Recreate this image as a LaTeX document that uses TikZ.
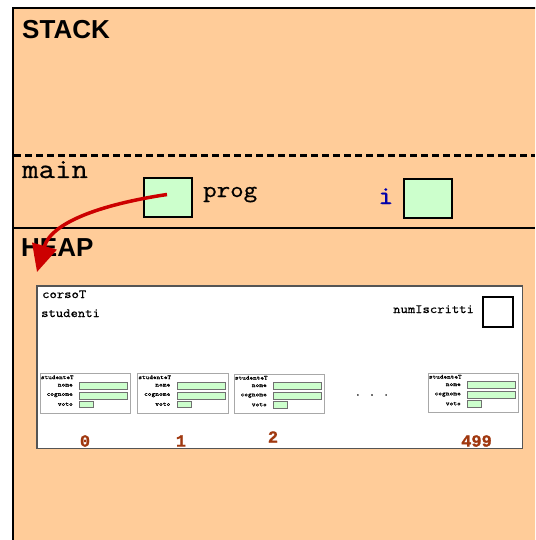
\documentclass[tikz,border=0pt]{standalone}
\usepackage{fontspec}
\setmainfont{Liberation Sans}
\setsansfont{Liberation Sans}
\setmonofont{Latin Modern Mono}[FakeStretch=1.14, FakeBold=0.8]
\newfontfamily\idxfont{Liberation Mono}[FakeBold=1.2]
\usetikzlibrary{arrows.meta}
\definecolor{peach}{HTML}{FFCC99}
\definecolor{cellgreen}{HTML}{CCFFCC}
\definecolor{ptrred}{HTML}{CC0000}
\definecolor{varblue}{HTML}{0000AA}
\definecolor{idxbrown}{HTML}{A0380F}
\definecolor{framegray}{HTML}{555555}
\definecolor{boxgray}{HTML}{A8A8A8}
\definecolor{fieldgray}{HTML}{707070}

\tikzset{
  region/.style={font=\fontsize{26}{26}\selectfont\sffamily\bfseries, anchor=base west, inner sep=0},
  framename/.style={font=\fontsize{28}{28}\selectfont\ttfamily, anchor=base west, inner sep=0},
  varname/.style={font=\fontsize{23}{23}\selectfont\ttfamily, anchor=base west, inner sep=0},
  cell/.style={draw=black, fill=cellgreen, line width=2, inner sep=0, minimum width=48, minimum height=39},
  smalltxt/.style={font=\fontsize{12.5}{12.5}\selectfont\ttfamily, anchor=base west, inner sep=0},
  idx/.style={font=\fontsize{17}{17}\selectfont\idxfont\bfseries, text=idxbrown, inner sep=0},
  sframe/.style={draw=boxgray, fill=white, line width=1.3, inner sep=0, minimum width=90.5, minimum height=39.5, anchor=north west},
  sfield/.style={draw=fieldgray, fill=cellgreen, line width=0.8, inner sep=0, minimum height=7.2, anchor=north west},
  stitle/.style={font=\fontsize{6}{6}\selectfont\ttfamily, anchor=west, inner sep=0},
  slabel/.style={font=\fontsize{6.2}{6.2}\selectfont\ttfamily, anchor=east, inner sep=0},
  ptr/.style={draw=ptrred, line width=3.5, -{Triangle[length=27pt,width=25pt]}},
  studente/.pic={
    \node[sframe] (-frame) at (0,0) {};
    \node[stitle] (-title) at (1.2,4.3) {studenteT};
    \node[slabel] (-nomel) at (33.5,12.2) {nome};
    \node[slabel] (-cognomel) at (33.5,22.2) {cognome};
    \node[slabel] (-votol) at (33.5,31.2) {voto};
    \node[sfield, minimum width=48] (-nome) at (39.5,8.5) {};
    \node[sfield, minimum width=48] (-cognome) at (39.5,18.5) {};
    \node[sfield, minimum width=14, minimum height=6.6] (-voto) at (39.5,27.8) {};
  }
}

\begin{document}
\begin{tikzpicture}[x=1pt,y=-1pt]
  \useasboundingbox (0,0) rectangle (535,540);
  \clip (0,0) rectangle (535,540);
  \fill[white] (0,0) rectangle (535,540);

  % memory area: stack above, heap below
  \draw[line width=2, fill=peach] (13,8) rectangle (550,560);
  \draw[line width=2.5, dash pattern=on 7pt off 4pt] (14,155.5) -- (535,155.5);
  \draw[line width=2] (13,228) -- (535,228);

  \node[region] (stack) at (22,38.5) {STACK};
  \node[region] (heap) at (21,256.5) {HEAP};

  % frame of main
  \node[framename] (main) at (22,178) {main};
  \node[cell] (prog) at (168,197.5) {};
  \node[varname] (progname) at (203,197) {prog};
  \node[varname, font=\fontsize{26}{26}\selectfont\ttfamily\bfseries, text=varblue] (iname) at (378,204) {i};
  \node[cell] (ivar) at (428,198) {};

  % the corsoT record allocated on the heap
  \node[draw=framegray, fill=white, line width=1.8, inner sep=0, anchor=north west,
        minimum width=485.5, minimum height=162.5] (corso) at (36,285) {};
  \node[smalltxt] (corsolbl) at (42,298) {corsoT};
  \node[smalltxt] (studlbl) at (41,317) {studenti};
  \node[smalltxt] (numlbl) at (393,313) {numIscritti};
  \node[draw=black, fill=white, line width=1.2, inner sep=0, minimum width=30, minimum height=30] (num) at (498,312) {};

  % array of students
  \pic (s0) at (39.5,373) {studente};
  \pic (s1) at (137,373) {studente};
  \pic (s2) at (233.5,373.5) {studente};
  \pic (s499) at (427.5,372.5) {studente};
  \node[font=\fontsize{12}{12}\selectfont\ttfamily, inner sep=0] (dots) at (372,395) {. . .};

  \node[idx] (i0) at (85,441) {0};
  \node[idx] (i1) at (181,441) {1};
  \node[idx] (i2) at (273,437) {2};
  \node[idx] (i499) at (476.5,441) {499};

  % pointer from prog into the heap
  \coordinate (tip) at (37,272);
  \draw[ptr] ([shift={(-1,-3)}]prog.center) .. controls (110,203) and (52,220) .. (tip);
\end{tikzpicture}
\end{document}
